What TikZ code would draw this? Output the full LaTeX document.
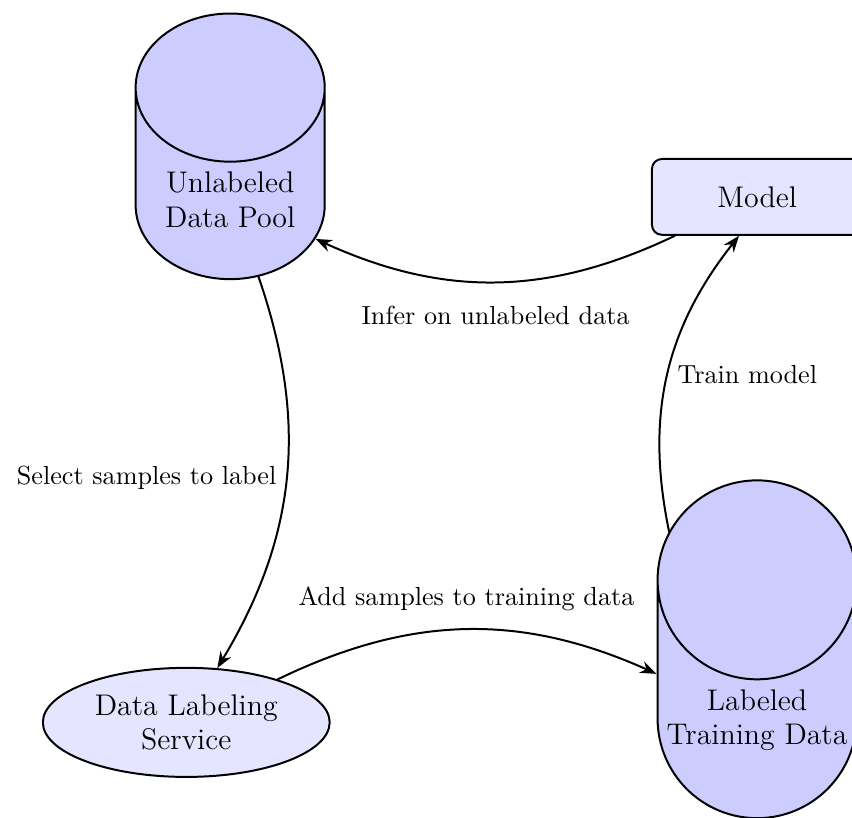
\documentclass[tikz,border=0pt,11pt]{standalone}
\usetikzlibrary{shapes.geometric,arrows.meta}
\begin{document}
\begin{tikzpicture}[line cap=round, line join=round,
    store/.style={cylinder, shape border rotate=90, aspect=1, draw, thick,
      fill=blue!20, align=center, font=\large, minimum width=2.67cm},
    box/.style={rectangle, rounded corners, draw, thick, fill=blue!10,
      align=center, font=\large, minimum width=2.97cm, minimum height=1.07cm},
    svc/.style={ellipse, draw, thick, fill=blue!10, align=center, font=\large,
      inner sep=0pt, minimum width=4.05cm, minimum height=1.54cm},
    flow/.style={-{Stealth}, thick, bend left=25},
    lbl/.style={font=\fontsize{10.5pt}{12.6pt}\selectfont}]
  \useasboundingbox (0,0) rectangle (12.03,-11.55);
  \clip (0,0) rectangle (12.03,-11.55);
  % stores and services
  \node[store] (pool) at (3.25,-2.82) {Unlabeled\\Data Pool};
  \node[box] (model) at (10.69,-2.78) {Model};
  \node[svc] (labeler) at (2.63,-10.20) {Data Labeling\\Service};
  \node[store] (train) at (10.69,-10.17) {Labeled\\Training Data};
  % active learning loop
  \draw[flow] (pool) to node[midway, left, lbl] {Select samples to label} (labeler);
  \draw[flow] (labeler) to node[midway, above=3.5pt, lbl] {Add samples to training data} (train);
  \draw[flow] (train) to node[midway, right, lbl] {Train model} (model);
  \draw[flow] (model) to node[midway, below=5.5pt, lbl] {Infer on unlabeled data} (pool);
\end{tikzpicture}
\end{document}
